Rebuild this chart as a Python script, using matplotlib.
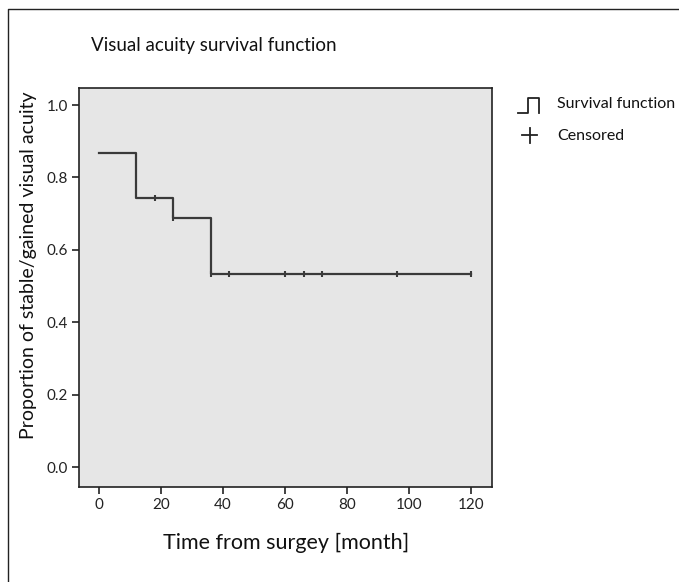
import matplotlib
matplotlib.use("Agg")
import matplotlib.pyplot as plt
from matplotlib.lines import Line2D

plt.rcParams['font.family'] = ['Lato', 'DejaVu Sans']

# Data
step_times = [0, 12, 24, 36, 120]
step_surv = [0.868, 0.742, 0.687, 0.533, 0.533]
censor_times = [18, 24, 36, 42, 60, 66, 72, 96, 120]
censor_surv = [0.742, 0.687, 0.533, 0.533, 0.533, 0.533, 0.533, 0.533, 0.533]
xticks = [0, 20, 40, 60, 80, 100, 120]
yticks = [0.0, 0.2, 0.4, 0.6, 0.8, 1.0]

W, H = 679, 582
fig = plt.figure(figsize=(W / 100, H / 100), dpi=100)
fig.patch.set_facecolor('white')


def fx(px):
    return px / W


def fy(py):
    return 1 - py / H


# outer frame (only left and top edges visible in the reference)
fig.add_artist(Line2D([fx(7.5), fx(7.5), 1.0], [0.0, fy(8.5), fy(8.5)],
                      transform=fig.transFigure, color='#222222', linewidth=1.0))

ax = fig.add_axes([79 / W, 1 - 487 / H, (492 - 79) / W, (487 - 88) / H])
ax.set_facecolor('#e6e6e6')
lc = '#3a3a3a'
ax.step(step_times, step_surv, where='post', color=lc, linewidth=1.6)
ax.plot(censor_times, censor_surv, linestyle='none', marker='|', markersize=5,
        markeredgewidth=1.5, color=lc)

ax.set_xlim(-6.45, 126.8)
ax.set_ylim(-0.055, 1.047)
ax.set_xticks(xticks)
ax.set_xticklabels([str(t) for t in xticks])
ax.set_yticks(yticks)
ax.set_yticklabels([f"{t:.1f}" for t in yticks])
for s in ax.spines.values():
    s.set_color('#222222')
    s.set_linewidth(1.2)
ax.tick_params(direction='out', length=5, width=1.2, color='#222222',
               labelsize=11, labelcolor='#222222', pad=3)

fig.text(214 / W, 1 - 45 / H, 'Visual acuity survival function', ha='center',
         va='center', fontsize=13.5, color='#111111')
fig.text(286 / W, 1 - 543 / H, 'Time from surgey [month]', ha='center',
         va='center', fontsize=15.5, color='#111111')
fig.text(29 / W, 1 - 265 / H, 'Proportion of stable/gained visual acuity',
         ha='center', va='center', rotation=90, fontsize=14, color='#111111')

# legend
fig.add_artist(Line2D([fx(518), fx(528), fx(528), fx(539), fx(539)],
                      [fy(113), fy(113), fy(98), fy(98), fy(113)],
                      transform=fig.transFigure, color='#222222', linewidth=1.3))
fig.add_artist(Line2D([fx(522), fx(537)], [fy(135), fy(135)],
                      transform=fig.transFigure, color='#222222', linewidth=1.3))
fig.add_artist(Line2D([fx(529.5), fx(529.5)], [fy(128), fy(143)],
                      transform=fig.transFigure, color='#222222', linewidth=1.3))
fig.text(fx(557), fy(104), 'Survival function', ha='left', va='center',
         fontsize=11.5, color='#111111')
fig.text(fx(557), fy(136), 'Censored', ha='left', va='center',
         fontsize=11.5, color='#111111')

fig.savefig('out.png', dpi=100)
